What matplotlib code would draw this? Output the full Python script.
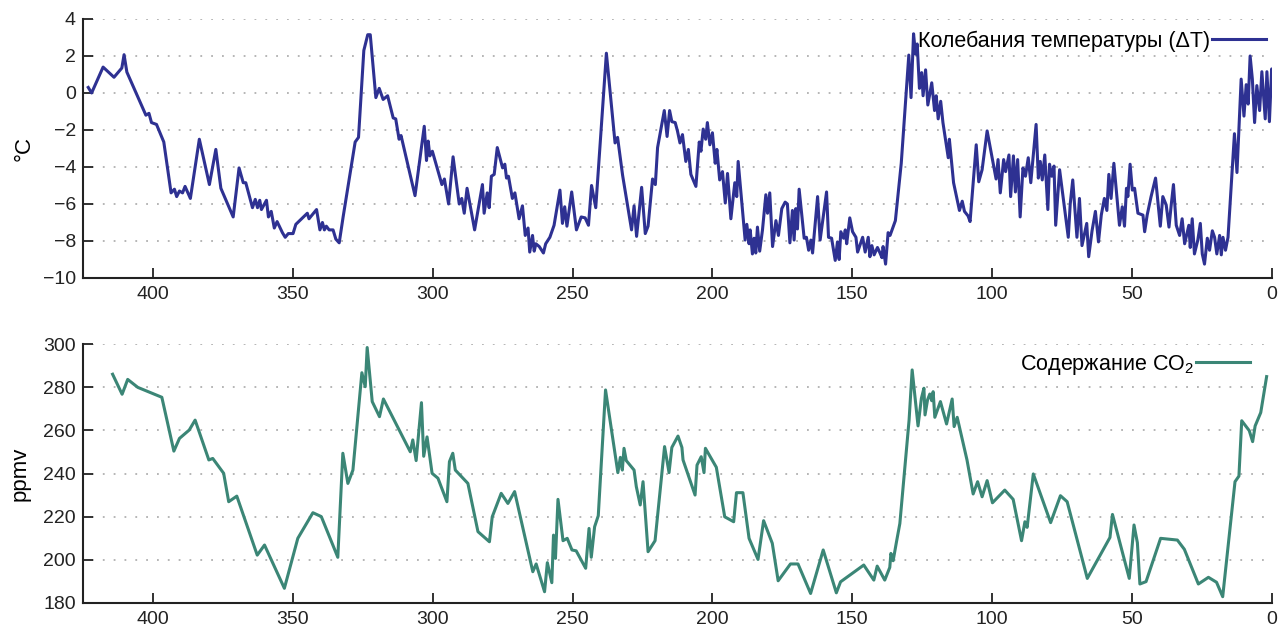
import matplotlib
matplotlib.use("Agg")
import matplotlib.pyplot as plt
import numpy as np

# temperature anomaly, age in thousand years before present
temp_age = [
    423.1, 421.9, 417.8, 413.9, 411.1, 410.3, 409.3, 402.5, 401.4, 400.5,
    398.7, 396.1, 393.5, 392.3, 391.5, 390.5, 389.4, 388.5, 386.6, 383.4,
    379.8, 377.5, 375.7, 371.3, 369.2, 367.7, 366.8, 364.4, 363.4, 362.6,
    361.8, 361.2, 359.4, 358.7, 357.7, 356.6, 355.6, 353.7, 352.7, 351.6,
    349.9, 348.9, 344.8, 344.2, 341.5, 340.3, 339.4, 338.7, 338.0, 337.0,
    335.6, 334.6, 333.4, 332.0, 327.7, 326.5, 324.6, 323.2, 322.3, 320.3,
    319.1, 317.7, 316.1, 314.1, 313.2, 312.0, 311.3, 306.3, 303.0, 302.2,
    301.6, 301.0, 300.1, 296.7, 295.8, 294.3, 292.7, 290.5, 289.6, 288.7,
    287.7, 285.0, 282.2, 281.6, 280.5, 279.8, 279.0, 278.0, 276.9, 275.0,
    274.2, 273.6, 272.9, 271.5, 270.6, 269.1, 267.9, 266.9, 265.9, 265.3,
    264.3, 263.7, 263.1, 261.9, 260.4, 259.6, 258.1, 256.6, 254.5, 253.6,
    252.8, 252.0, 250.3, 248.6, 246.9, 245.5, 244.3, 243.2, 241.7, 237.9,
    234.8, 233.9, 232.1, 228.9, 228.0, 227.1, 225.3, 224.0, 223.0, 221.4,
    220.4, 219.6, 217.2, 216.2, 215.3, 214.5, 213.3, 212.5, 211.6, 210.7,
    209.5, 208.6, 207.7, 205.9, 204.7, 204.1, 203.3, 202.4, 201.8, 200.9,
    200.0, 199.0, 198.4, 197.4, 196.4, 195.4, 194.6, 193.4, 192.0, 191.3,
    190.8, 188.3, 187.7, 186.9, 186.5, 185.7, 185.1, 184.5, 183.9, 183.1,
    182.1, 180.9, 180.3, 179.5, 178.5, 177.3, 176.4, 175.2, 174.0, 173.2,
    172.3, 171.4, 170.8, 170.2, 169.6, 169.0, 167.2, 166.4, 165.6, 164.8,
    164.2, 162.4, 161.5, 159.2, 158.5, 157.4, 156.1, 155.3, 154.7, 154.1,
    153.1, 152.5, 152.0, 150.9, 149.9, 148.7, 148.1, 146.3, 145.4, 144.3,
    143.7, 143.0, 142.2, 141.0, 140.1, 139.4, 139.0, 138.1, 137.2, 136.5,
    134.6, 132.5, 129.8, 129.0, 128.1, 127.4, 126.8, 126.0, 125.2, 124.7,
    123.8, 123.0, 121.6, 120.6, 120.0, 119.3, 118.4, 117.6, 115.7, 115.3,
    113.8, 111.7, 110.7, 109.9, 108.6, 107.9, 105.7, 104.8, 103.6, 101.8,
    98.6, 97.9, 97.1, 95.9, 95.2, 94.0, 93.4, 92.4, 91.7, 90.9,
    90.0, 89.0, 88.1, 87.1, 86.2, 84.3, 83.5, 82.8, 82.1, 81.2,
    80.1, 79.5, 78.7, 77.9, 77.3, 75.9, 72.8, 72.1, 71.2, 69.7,
    68.8, 67.9, 66.2, 65.5, 64.3, 63.1, 62.0, 61.0, 59.9, 59.0,
    58.3, 57.5, 56.5, 54.5, 53.5, 52.7, 52.0, 51.5, 50.7, 49.9,
    49.1, 47.9, 46.1, 45.5, 44.6, 43.2, 41.6, 39.9, 39.0, 37.8,
    36.8, 36.0, 35.2, 34.2, 33.0, 32.1, 31.2, 29.7, 29.2, 28.5,
    27.7, 26.5, 25.6, 24.9, 24.1, 23.1, 22.3, 21.3, 20.5, 19.7,
    18.7, 18.1, 17.5, 16.6, 15.7, 13.4, 12.5, 11.0, 10.0, 9.2,
    8.5, 7.8, 7.0, 6.2, 5.4, 4.4, 3.6, 2.4, 1.8, 0.9,
    0.1, 0.0,
]
temp_val = [
    0.3, 0.0, 1.4, 0.85, 1.35, 2.07, 1.13, -1.2, -1.1, -1.6,
    -1.7, -2.65, -5.4, -5.2, -5.6, -5.3, -5.4, -5.05, -5.7, -2.5,
    -4.95, -3.05, -5.15, -6.7, -4.05, -4.85, -4.85, -6.2, -5.75, -6.2,
    -5.8, -6.3, -5.8, -6.7, -6.4, -7.3, -6.95, -7.55, -7.8, -7.6,
    -7.6, -7.1, -6.5, -6.8, -6.3, -7.4, -7.0, -7.4, -7.2, -7.4,
    -7.4, -7.9, -8.1, -6.7, -2.65, -2.4, 2.3, 3.15, 3.15, -0.25,
    0.25, -0.35, -0.15, -1.35, -1.4, -2.5, -2.3, -5.55, -1.8, -3.65,
    -2.6, -3.4, -3.15, -4.95, -4.65, -6.0, -3.45, -6.0, -5.7, -6.5,
    -5.15, -7.4, -4.95, -6.5, -5.4, -6.2, -4.5, -4.4, -2.95, -4.05,
    -3.85, -4.6, -4.5, -5.7, -5.4, -6.8, -6.1, -7.7, -7.3, -8.6,
    -7.7, -8.55, -8.15, -8.3, -8.65, -8.15, -7.8, -7.15, -5.25, -7.05,
    -6.15, -7.2, -5.35, -7.4, -6.7, -6.75, -7.15, -5.0, -6.2, 2.15,
    -2.7, -2.4, -4.45, -7.4, -6.1, -7.75, -5.1, -7.6, -7.2, -4.65,
    -4.95, -2.95, -0.95, -2.35, -0.95, -1.55, -1.6, -2.05, -2.7, -2.25,
    -3.7, -3.05, -4.4, -5.05, -2.65, -3.15, -1.95, -2.5, -1.6, -2.8,
    -2.15, -3.8, -3.05, -4.7, -4.25, -5.95, -4.35, -6.8, -4.85, -5.6,
    -3.7, -7.95, -7.1, -8.15, -7.4, -8.7, -7.85, -8.65, -7.25, -8.55,
    -7.4, -5.5, -6.5, -5.4, -8.3, -6.9, -7.7, -6.25, -5.9, -6.0,
    -8.1, -6.35, -7.95, -6.25, -7.35, -5.2, -7.85, -7.8, -8.5, -7.95,
    -8.65, -5.6, -7.95, -5.35, -7.8, -7.85, -9.05, -8.05, -9.0, -7.5,
    -7.85, -7.4, -8.15, -6.75, -7.5, -7.8, -8.6, -7.8, -8.6, -7.8,
    -8.85, -8.25, -8.75, -8.35, -8.65, -8.9, -8.3, -9.25, -7.55, -7.7,
    -6.9, -3.8, 2.05, -0.25, 3.2, 2.1, 2.65, 0.25, 1.1, -0.15,
    1.25, -0.65, 0.55, -0.95, -0.15, -1.4, -0.45, -1.6, -3.5, -2.5,
    -4.85, -6.35, -5.85, -6.4, -6.65, -6.95, -2.8, -4.8, -4.15, -2.05,
    -4.65, -3.6, -5.4, -3.6, -4.25, -3.35, -5.6, -3.4, -5.35, -3.6,
    -6.7, -4.05, -4.5, -3.5, -4.85, -1.7, -4.6, -3.7, -4.7, -3.35,
    -6.3, -3.85, -4.5, -3.95, -7.15, -4.15, -7.8, -6.0, -4.7, -7.8,
    -5.7, -8.25, -7.05, -8.85, -7.45, -6.4, -8.05, -6.6, -5.7, -6.35,
    -4.4, -5.7, -3.8, -7.15, -6.15, -7.2, -5.15, -5.6, -3.85, -5.25,
    -5.15, -6.5, -6.6, -7.5, -6.6, -5.6, -4.6, -7.2, -5.6, -6.05,
    -7.25, -6.05, -4.95, -7.15, -7.7, -6.8, -8.15, -7.15, -8.35, -6.8,
    -8.7, -7.95, -7.05, -8.7, -9.25, -7.85, -8.5, -7.45, -7.8, -8.7,
    -7.7, -8.75, -7.8, -8.5, -7.8, -2.2, -4.3, 0.75, -1.25, 0.45,
    -0.6, 2.0, 0.75, -1.6, 0.4, -0.95, 1.15, -1.4, 1.15, -1.55,
    1.3, 0.3,
]

# CO2 concentration, ppmv
co2_age = [
    414.4, 411.0, 409.0, 405.4, 396.8, 392.5, 390.5, 387.0, 384.9, 380.0,
    378.6, 374.7, 372.9, 370.0, 362.7, 360.1, 353.0, 348.2, 342.8, 339.8,
    333.9, 332.1, 330.3, 328.5, 325.3, 324.1, 323.4, 321.6, 319.0, 317.6,
    308.0, 307.1, 305.9, 304.0, 303.2, 302.0, 300.2, 298.1, 294.9, 294.0,
    292.8, 291.9, 287.4, 283.8, 279.7, 278.7, 275.5, 273.1, 270.7, 264.2,
    263.0, 260.0, 259.0, 257.4, 256.8, 256.1, 255.2, 253.4, 251.9, 250.2,
    248.7, 245.3, 244.1, 243.3, 242.1, 240.8, 238.2, 233.8, 232.9, 232.2,
    231.6, 230.8, 228.0, 227.2, 225.8, 224.8, 223.0, 220.5, 217.1, 215.5,
    214.5, 212.3, 210.9, 210.5, 206.2, 205.5, 204.0, 203.0, 202.5, 198.6,
    195.6, 192.4, 191.4, 189.1, 186.9, 183.7, 181.7, 178.6, 176.5, 172.1,
    169.4, 164.9, 160.4, 155.7, 154.2, 145.9, 142.3, 141.1, 138.4, 136.6,
    136.2, 135.4, 134.2, 133.0, 129.7, 128.6, 126.5, 125.3, 124.4, 124.0,
    123.1, 122.3, 121.6, 121.1, 120.5, 118.5, 116.3, 114.3, 113.6, 112.5,
    109.0, 106.8, 105.2, 103.6, 101.8, 99.9, 95.5, 92.5, 89.5, 88.3,
    87.5, 85.3, 79.1, 75.6, 73.2, 66.0, 57.9, 57.0, 51.0, 49.3,
    48.1, 47.2, 45.0, 39.8, 33.8, 31.3, 26.3, 22.7, 19.8, 17.6,
    13.2, 11.8, 10.8, 8.1, 6.9, 6.0, 4.0, 1.9,
]
co2_val = [
    286.1, 276.8, 283.7, 280.0, 275.4, 250.4, 256.3, 260.2, 264.8, 246.3,
    247.0, 240.1, 226.9, 229.5, 202.1, 206.8, 186.7, 209.9, 221.8, 220.0,
    201.1, 249.4, 235.4, 241.6, 286.8, 280.3, 298.5, 273.4, 266.4, 274.6,
    250.1, 255.6, 246.0, 272.9, 248.0, 257.0, 240.1, 237.8, 226.9, 245.5,
    249.4, 241.6, 235.4, 213.0, 208.3, 219.9, 230.8, 226.1, 231.6, 194.4,
    198.0, 185.1, 198.6, 189.3, 211.4, 200.6, 228.0, 208.8, 209.9, 204.5,
    204.1, 196.0, 214.5, 201.1, 215.3, 220.4, 278.8, 240.4, 247.5, 241.6,
    251.7, 246.0, 241.6, 233.9, 225.4, 236.2, 203.7, 208.8, 252.5, 240.4,
    252.1, 257.4, 252.1, 246.3, 230.0, 243.9, 247.8, 240.4, 251.7, 242.9,
    219.9, 217.6, 231.1, 231.1, 209.9, 200.1, 218.1, 207.6, 190.2, 198.0,
    198.0, 184.3, 204.5, 184.6, 189.7, 197.5, 190.5, 197.0, 190.5, 196.4,
    202.9, 199.5, 208.3, 216.8, 264.8, 288.1, 262.1, 274.9, 279.6, 267.2,
    274.2, 276.9, 273.8, 278.0, 266.1, 273.4, 263.0, 274.6, 261.8, 266.1,
    246.3, 230.5, 236.2, 229.2, 236.7, 226.4, 232.3, 228.0, 208.8, 217.6,
    215.0, 239.8, 217.2, 229.7, 226.9, 191.3, 210.3, 221.0, 191.3, 216.1,
    207.9, 188.7, 189.8, 209.9, 209.1, 204.8, 188.7, 191.8, 189.5, 182.8,
    236.2, 238.8, 264.5, 259.9, 254.8, 262.1, 268.3, 285.0,
]

temp_label = "Колебания температуры (ΔT)"
co2_label = "Содержание CO$_2$"

temp_color = "#2e3192"
co2_color = "#3b8676"

plt.rcParams["font.family"] = ["Liberation Sans", "DejaVu Sans"]
plt.rcParams["font.size"] = 14
plt.rcParams["mathtext.fontset"] = "custom"
plt.rcParams["mathtext.rm"] = "Liberation Sans"

fig = plt.figure(figsize=(12.8, 6.37), dpi=100)
ax_t = fig.add_axes([0.0648, 0.5636, 0.9289, 0.4066])
ax_c = fig.add_axes([0.0648, 0.0538, 0.9289, 0.4057])


def style_axes(ax, ylim, yticks):
    ax.set_xlim(425, 0)
    ax.set_ylim(*ylim)
    ax.set_yticks(yticks)
    ax.set_xticks([400, 350, 300, 250, 200, 150, 100, 50, 0])
    for side in ("top", "right"):
        ax.spines[side].set_visible(False)
    for side in ("left", "bottom"):
        ax.spines[side].set_linewidth(1.5)
        ax.spines[side].set_color("#222222")
    ax.tick_params(direction="in", length=7, width=1.3, color="#222222",
                   labelcolor="#222222", labelsize=14)
    ax.tick_params(axis="x", pad=6)
    ax.tick_params(axis="y", pad=5)
    for y in yticks[1:]:
        ax.axhline(y, xmin=0.008, color="#b0b0b0", linewidth=1.3,
                   linestyle=(0, (1, 5)), zorder=0)


style_axes(ax_t, (-10, 4), list(range(-10, 5, 2)))
ax_t.plot(temp_age, temp_val, color=temp_color, linewidth=2.2, label=temp_label)
ax_t.set_ylabel("°C", fontsize=16, labelpad=6)
ax_t.legend(loc="center right", bbox_to_anchor=(0.995, 0.915), frameon=False,
            markerfirst=False, handlelength=2.5, handletextpad=0.1,
            borderpad=0, borderaxespad=0, fontsize=15.5)

style_axes(ax_c, (180, 300), list(range(180, 301, 20)))
ax_c.plot(co2_age, co2_val, color=co2_color, linewidth=2.2, label=co2_label)
ax_c.set_ylabel("ppmv", fontsize=16, labelpad=9)
ax_c.legend(loc="center right", bbox_to_anchor=(0.9815, 0.92), frameon=False,
            markerfirst=False, handlelength=2.5, handletextpad=0.1,
            borderpad=0, borderaxespad=0, fontsize=15.5)

fig.savefig("out.png", dpi=100)
